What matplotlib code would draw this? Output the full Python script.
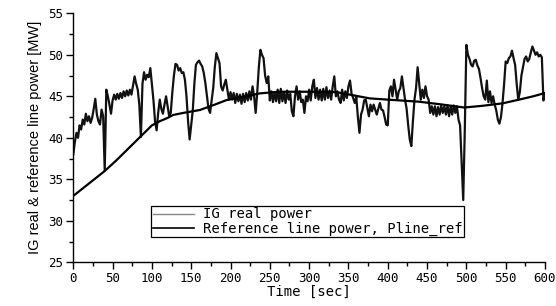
import numpy as np
import matplotlib
matplotlib.use("Agg")
import matplotlib.pyplot as plt
from matplotlib.lines import Line2D
from matplotlib.ticker import MultipleLocator

# IG real power, read every 2 s from 0 to 600 s
ig_time = np.arange(0, 601, 2)
ig_power = [
    38.0, 39.5, 40.6, 40.0, 41.5, 41.0, 42.2, 41.6, 42.9, 42.0,
    42.6, 41.8, 42.4, 43.5, 44.7, 42.8, 42.0, 41.6, 43.4, 42.6,
    36.0, 45.8, 45.0, 44.0, 42.9, 44.5, 45.2, 44.6, 45.3, 44.7,
    45.4, 44.8, 45.6, 45.0, 45.7, 45.1, 45.8, 45.2, 46.3, 47.4,
    46.5, 45.8, 44.0, 40.1, 46.5, 47.9, 47.0, 47.6, 47.3, 48.4,
    46.5, 44.5, 42.0, 40.9, 43.0, 44.6, 43.5, 42.9, 44.0, 45.0,
    43.8, 42.6, 43.0, 45.5, 47.5, 48.9, 48.8, 48.1, 48.4, 47.8,
    47.9, 47.0, 45.0, 42.0, 39.8, 41.5, 43.3, 46.5, 48.8, 49.1,
    49.3, 48.9, 48.6, 47.8, 46.6, 45.0, 43.5, 43.0, 44.5, 46.0,
    48.5, 50.2, 49.6, 49.0, 46.2, 45.7, 46.4, 47.0, 45.8, 44.6,
    45.5, 44.6, 45.4, 44.2, 45.3, 44.4, 45.2, 44.1, 45.3, 44.3,
    45.4, 44.5, 45.6, 44.6, 46.2, 45.0, 43.0, 45.5, 48.5, 50.6,
    50.0, 49.6, 47.5, 46.6, 47.4, 44.5, 45.6, 44.3, 45.5, 44.4,
    45.8, 44.2, 45.9, 44.4, 45.5, 44.2, 45.7, 44.6, 45.3, 43.2,
    42.6, 45.0, 46.2, 44.6, 45.6, 44.3, 44.6, 43.0, 45.0, 44.4,
    45.8, 44.5, 46.2, 47.0, 44.8, 46.0, 44.6, 45.8, 44.5, 45.9,
    44.6, 46.1, 44.8, 45.7, 44.6, 46.2, 47.4, 45.0, 45.6, 44.6,
    44.2, 45.8, 44.5, 45.6, 44.8, 46.2, 46.9, 45.3, 44.8, 44.2,
    44.9, 42.5, 40.6, 42.8, 43.4, 44.5, 44.6, 43.6, 42.6, 44.0,
    43.2, 44.0, 43.4, 42.8, 43.5, 44.2, 43.4, 43.3, 42.5, 41.6,
    41.5, 45.7, 46.2, 45.0, 47.0, 45.8, 44.6, 45.6, 46.0, 47.4,
    46.0, 44.6, 43.5, 41.5, 39.8, 39.0, 42.0, 44.6, 46.0, 48.5,
    46.5, 44.6, 45.8, 44.8, 46.2, 45.0, 44.6, 43.0, 43.8, 42.8,
    43.8, 42.6, 43.7, 42.8, 43.9, 43.0, 43.8, 42.8, 43.9, 42.6,
    43.8, 42.8, 43.9, 43.0, 43.8, 42.2, 41.5, 37.0, 32.5, 41.0,
    51.2, 50.0, 49.5, 48.8, 48.6, 49.3, 49.4, 48.7, 48.3, 47.2,
    46.0, 45.0, 44.6, 46.9, 44.3, 45.6, 44.2, 45.0, 44.0, 43.3,
    42.2, 41.7, 42.5, 44.2, 46.5, 49.2, 49.0, 49.6, 49.8, 50.5,
    49.6, 48.8, 46.5, 44.6, 45.5, 47.5, 48.5, 49.5, 49.8, 49.2,
    49.5, 50.3, 51.0, 50.5, 50.0, 50.3, 49.8, 50.0, 49.7, 44.5,
    45.3,
]

# reference line power Pline_ref
ref_time = [0, 20, 40, 55, 70, 85, 100, 110, 120, 127, 140, 161, 180, 195,
            220, 237, 262, 300, 335, 377, 400, 440, 470, 497, 520, 546, 567, 585, 600]
ref_power = [33.0, 34.5, 36.0, 37.3, 38.7, 40.1, 41.5, 42.0, 42.4, 42.75, 43.0, 43.35,
             44.0, 44.55, 45.0, 45.35, 45.55, 45.55, 45.5, 44.75, 44.6, 44.35, 44.0,
             43.65, 43.85, 44.15, 44.6, 45.0, 45.4]

x_ticks = np.arange(0, 601, 50)
y_ticks = np.arange(25, 56, 5)

mono = "DejaVu Sans Mono"

fig = plt.figure(figsize=(5.56, 3.06), dpi=100)
ax = fig.add_axes([0.1318, 0.1428, 0.8484, 0.8137])

ax.plot(ig_time, ig_power, color="#111111", linewidth=1.6)
ax.plot(ref_time, ref_power, color="black", linewidth=1.6)

ax.set_xlim(0, 600)
ax.set_ylim(25, 55)
ax.set_xticks(x_ticks)
ax.set_yticks(y_ticks)
ax.xaxis.set_minor_locator(MultipleLocator(25))
ax.yaxis.set_minor_locator(MultipleLocator(2.5))
ax.tick_params(which="major", direction="out", length=5, width=1, labelsize=9, pad=2)
ax.tick_params(which="minor", direction="out", length=3, width=1)
for lab in ax.get_xticklabels() + ax.get_yticklabels():
    lab.set_family(mono)

for side in ("top", "right"):
    ax.spines[side].set_visible(False)
ax.spines["left"].set_linewidth(1.0)
ax.spines["bottom"].set_linewidth(1.0)

ax.set_xlabel("Time [sec]", fontsize=10, family=mono, labelpad=0)
ax.set_ylabel("IG real & reference line power [MW]", fontsize=10.5,
              family="Liberation Sans", labelpad=5)

handles = [Line2D([], [], color="#888888", linewidth=1.0),
           Line2D([], [], color="black", linewidth=1.2)]
leg = ax.legend(handles, ["IG real power", "Reference line power, Pline_ref"],
                loc="upper left", bbox_to_anchor=(0.1647, 0.2273), borderaxespad=0,
                prop={"family": mono, "size": 10}, fancybox=False,
                framealpha=1, edgecolor="black", handlelength=3.0,
                handletextpad=0.6, borderpad=0.12, labelspacing=0.0)
leg.get_frame().set_linewidth(0.9)

fig.savefig("out.png", dpi=100)
